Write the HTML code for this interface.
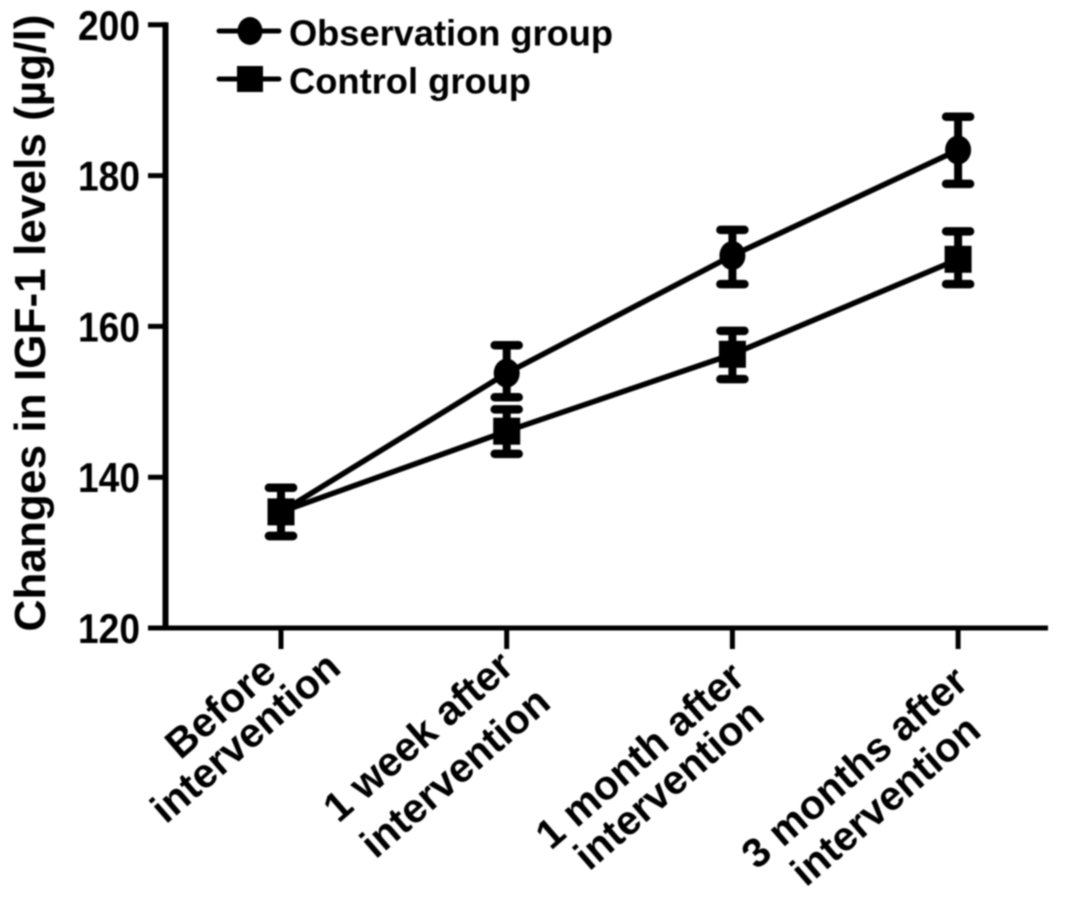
<!DOCTYPE html>
<html>
<head>
<meta charset="utf-8">
<style>
html,body{margin:0;padding:0;background:#fff;}
svg{display:block;}
text{font-family:"Liberation Sans",sans-serif;font-weight:bold;fill:#000;}
</style>
</head>
<body>
<svg id="chart" width="1087" height="905" viewBox="0 0 1087 905" xmlns="http://www.w3.org/2000/svg">
<defs><filter id="soft" x="-5%" y="-5%" width="110%" height="110%"><feGaussianBlur stdDeviation="0.8"/></filter></defs>
<g id="root" filter="url(#soft)"></g>
</svg>
<script>
const categories = [
  ["Before", "intervention"],
  ["1 week after", "intervention"],
  ["1 month after", "intervention"],
  ["3 months after", "intervention"]
];
const yTicks = [120, 140, 160, 180, 200];
const observationMean = [135.4, 153.8, 169.4, 183.4];
const observationUpper = [138.6, 157.5, 172.8, 187.8];
const observationLower = [132.2, 150.6, 165.6, 178.9];
const controlMean = [135.4, 146.1, 156.3, 168.9];
const controlUpper = [138.6, 149.0, 159.4, 172.6];
const controlLower = [132.2, 143.1, 153.0, 165.6];
const seriesNames = ["Observation group", "Control group"];
const yTitle = "Changes in IGF-1 levels (µg/l)";

const NS = "http://www.w3.org/2000/svg";
const root = document.getElementById("root");
const yScale = v => 628 - (v - 120) * 7.54;
const xScale = i => 281 + i * 225.7;

function el(tag, attrs, parent, text) {
  const e = document.createElementNS(NS, tag);
  for (const k in attrs) e.setAttribute(k, attrs[k]);
  if (text !== undefined) e.textContent = text;
  (parent || root).appendChild(e);
  return e;
}

function line(x1, y1, x2, y2, w, parent, cap) {
  return el("line", {x1, y1, x2, y2, stroke: "#000", "stroke-width": w, "stroke-linecap": cap || "butt"}, parent);
}

function marker(kind, x, y, parent, size) {
  if (kind === "circle") {
    return el("ellipse", {cx: x, cy: y, rx: size / 2 - 0.5, ry: size / 2 + 1, fill: "#000"}, parent);
  }
  return el("rect", {x: x - size / 2, y: y - size / 2, width: size, height: size, fill: "#000"}, parent);
}

/* Axes */
const yAxis = el("g", {}, root);


line(165.5, yScale(200) - 2.5, 165.5, yScale(120) + 2.5, 6, yAxis);
yTicks.forEach(t => {
  const y = yScale(t);
  const tick = line(148, y, 166, y, 5, yAxis);
  
  
  const lab = el("text", {x: 140, y: y + 15, "text-anchor": "end", "font-size": 42, textLength: 62, lengthAdjust: "spacingAndGlyphs"}, yAxis, String(t));
  
  
});
const yLab = el("text", {transform: "translate(45,323) rotate(-90)", "text-anchor": "middle", "font-size": 44, textLength: 617, lengthAdjust: "spacingAndGlyphs"}, root, yTitle);



const xAxis = el("g", {}, root);


line(148, 628, 1048, 628, 5, xAxis);
categories.forEach((c, i) => {
  const tick = line(xScale(i), 628, xScale(i), 649, 5, xAxis);
  
  
});

/* Wrapped, rotated category labels: offsets of each line's centre from the tick */
const labelLayout = [
  [[-61, 79], [-36, 109]],
  [[-89, 108], [-52, 144]],
  [[-93, 127], [-64, 156]],
  [[-104, 139], [-73, 172]]
];
categories.forEach((c, i) => {
  const g = el("g", {}, xAxis);
  
  
  c.forEach((txt, j) => {
    const [dx, dy] = labelLayout[i][j];
    el("text", {
      transform: "translate(" + (xScale(i) + dx) + "," + (628 + dy) + ") rotate(-41)",
      "text-anchor": "middle", dy: "0.35em", "font-size": 41
    }, g, txt);
  });
});

/* Series */
function drawSeries(name, kind, mean, upper, lower) {
  const g = el("g", {}, root);
  
  
  const pts = mean.map((v, i) => xScale(i) + "," + yScale(v)).join(" ");
  const pl = el("polyline", {points: pts, fill: "none", stroke: "#000", "stroke-width": 5.5}, g);
  
  
  mean.forEach((v, i) => {
    const x = xScale(i);
    const yu = yScale(upper[i]), yl = yScale(lower[i]);
    const bar = el("g", {}, g);
    
    
    line(x, yu, x, yl, 8, bar);
    line(x - 12, yu, x + 12, yu, 8.5, bar, "round");
    line(x - 12, yl, x + 12, yl, 8.5, bar, "round");
    const m = marker(kind, x, yScale(v), g, kind === "circle" ? 27 : 27);
    
    
  });
}
drawSeries("observation-group", "circle", observationMean, observationUpper, observationLower);
drawSeries("control-group", "square", controlMean, controlUpper, controlLower);

/* Legend */
const legend = el("g", {}, root);


seriesNames.forEach((n, i) => {
  const y = 31 + i * 48;
  const e = el("g", {}, legend);
  
  
  line(219, y, 279, y, 5, e, "round");
  marker(i === 0 ? "circle" : "square", 250, y, e, 26);
  el("text", {x: 289, y: y + 14.5, "font-size": 36, textLength: i === 0 ? 324 : 242, lengthAdjust: "spacingAndGlyphs"}, e, n);
});
</script>
</body>
</html>
